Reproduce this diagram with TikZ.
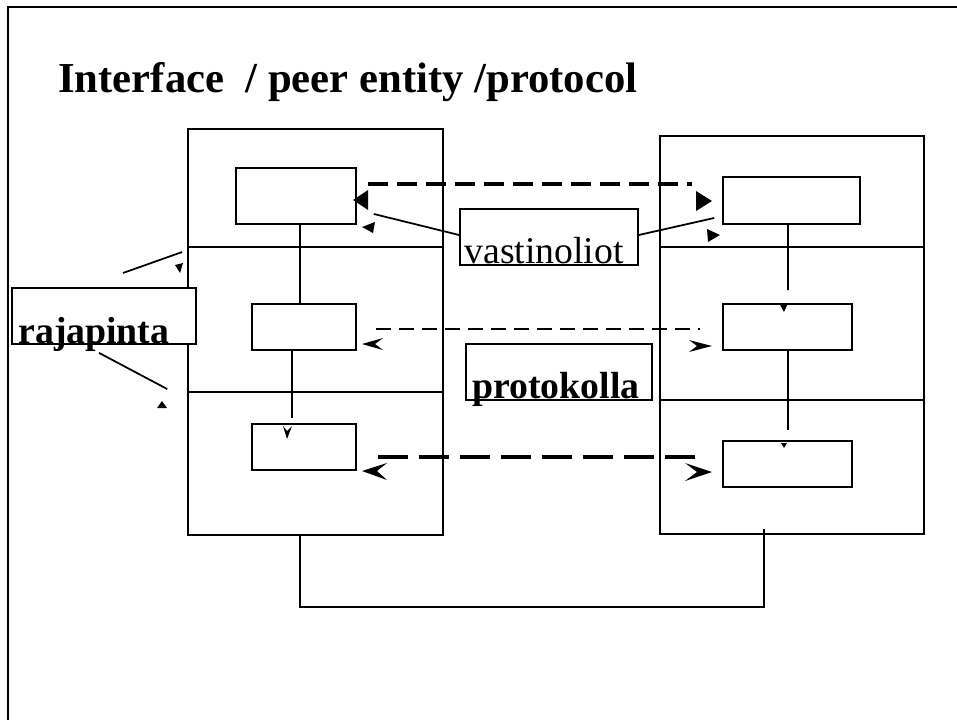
\documentclass[tikz,border=0pt]{standalone}
\usepackage{fontspec}
\setmainfont{Liberation Serif}
\usetikzlibrary{calc}

\tikzset{
  plain/.style={line width=1pt},
  box/.style={draw, fill=white, line width=1pt, inner sep=0pt},
  label text/.style={anchor=base west, inner sep=0pt, font=\fontsize{21.5}{25}\selectfont},
  upper dash/.style={line width=2.2pt, dash pattern=on 0.4cm off 0.18cm},
  middle dash/.style={line width=0.9pt, dash pattern=on 0.3cm off 0.16cm},
  lower dash/.style={line width=2.4pt, dash pattern=on 0.6cm off 0.22cm}
}

\begin{document}
\begin{tikzpicture}[x=0.02cm, y=-0.02cm]
    \useasboundingbox (0, 0) rectangle (957, 720);
    \draw[line width=1.2pt] (8, 720) -- (8, 7) -- (957, 7);
    \node[anchor = base west, inner sep = 0pt, font = \fontsize{24.3}{28}\selectfont\bfseries] (title) at (58, 92) {Interface\ \ / peer entity /protocol};

    \node[box, minimum width = 5.1cm, minimum height = 8.12cm] (left stack) at (315.5, 332) {};
    \node[box, minimum width = 5.28cm, minimum height = 7.96cm] (right stack) at (792, 335) {};
    \draw[plain] ($(left stack.north west)+(0, 119)$) -- ($(left stack.north east)+(0, 119)$);
    \draw[plain] ($(left stack.north west)+(0, 264)$) -- ($(left stack.north east)+(0, 264)$);
    \draw[plain] ($(right stack.north west)+(0, 112)$) -- ($(right stack.north east)+(0, 112)$);
    \draw[plain] ($(right stack.north west)+(0, 265)$) -- ($(right stack.north east)+(0, 265)$);

    \node[box, minimum width = 2.4cm, minimum height = 1.12cm] (left upper) at (296, 196) {};
    \node[box, minimum width = 2.08cm, minimum height = 0.92cm] (left middle) at (304, 327) {};
    \node[box, minimum width = 2.08cm, minimum height = 0.92cm] (left lower) at (304, 447) {};
    \node[box, minimum width = 2.74cm, minimum height = 0.94cm] (right upper) at (791.5, 200.5) {};
    \node[box, minimum width = 2.58cm, minimum height = 0.92cm] (right middle) at (787.5, 327) {};
    \node[box, minimum width = 2.58cm, minimum height = 0.92cm] (right lower) at (787.5, 464) {};

    \draw[plain] ($(left upper.south)+(4, 0)$) -- ($(left middle.north)+(-4, 0)$);
    \draw[plain] ($(left middle.south)+(-12, 0)$) -- ($(left lower.north)+(-12, -5)$);
    \draw[plain] ($(right upper.south)+(-3.5, 0)$) -- ($(right middle.north)+(0.5, -13)$);
    \draw[plain] ($(right middle.south)+(0.5, 0)$) -- ($(right lower.north)+(0.5, -10)$);
    \fill (287, 439) -- (283, 426) -- (287, 431) -- (292, 426) -- cycle;
    \fill (784, 312) -- (779, 303) -- (788, 303) -- cycle;
    \fill (784, 448) -- (781, 443) -- (787, 443) -- cycle;

    \draw[plain] ($(left stack.south)+(-15.5, 0)$) -- ++(0, 71) -| ($(right stack.south)+(-28, -6)$);

    \draw[upper dash] ($(left upper.east)+(11, -12)$) -- ($(right upper.west)+(-30, -16.5)$);
    \draw[middle dash] ($(left middle.east)+(19, 2)$) -- ($(right middle.west)+(-22, 2)$);
    \draw[lower dash] ($(left lower.east)+(21, 10)$) -- ($(right lower.west)+(-20, -7)$);
    \fill (353, 200) -- (368, 190) -- (368, 210) -- cycle;
    \fill (712, 201) -- (696, 191) -- (696, 211) -- cycle;
    \fill (362, 344) -- (383, 338) -- (375, 344) -- (383, 350) -- cycle;
    \fill (712, 346) -- (689, 340) -- (697, 346) -- (689, 352) -- cycle;
    \fill (362, 471) -- (387, 463) -- (377, 471) -- (387, 480) -- cycle;
    \fill (712, 472) -- (685, 463) -- (697, 472) -- (685, 481) -- cycle;

    \node[box, minimum width = 3.56cm, minimum height = 1.12cm] (peer box) at (549, 237) {};
    \node[label text] (peer label) at (464, 263) {vastinoliot};
    \draw[plain] ($(peer box.west)+(0, -2)$) -- ($(left upper.east)+(17, 18)$);
    \draw[plain] ($(peer box.east)+(0, -2)$) -- ($(right upper.west)+(-8, 17.5)$);
    \fill (362, 227) -- (375, 222) -- (373, 233) -- cycle;
    \fill (720, 235) -- (707, 229) -- (708, 242) -- cycle;

    \node[box, minimum width = 3.68cm, minimum height = 1.12cm] (interface box) at (104, 316) {};
    \node[label text, font = \fontsize{21.5}{25}\selectfont\bfseries] (interface label) at (18, 343) {rajapinta};
    \coordinate (interface end) at (123, 273);
    \draw[plain] (interface end) -- ($(left stack.west)+(-5, -80)$);
    \draw[plain] ($(interface box.south)+(-5, 8)$) -- ($(left stack.west)+(-20, 57)$);
    \fill (175, 265) -- (183, 263) -- (180, 273) -- cycle;
    \fill (162, 401) -- (157, 408) -- (167, 408) -- cycle;

    \node[box, minimum width = 3.72cm, minimum height = 1.12cm] (protocol box) at (559, 372) {};
    \node[label text, font = \fontsize{21.5}{25}\selectfont\bfseries] (protocol label) at (472, 398) {protokolla};
  \end{tikzpicture}
\end{document}
